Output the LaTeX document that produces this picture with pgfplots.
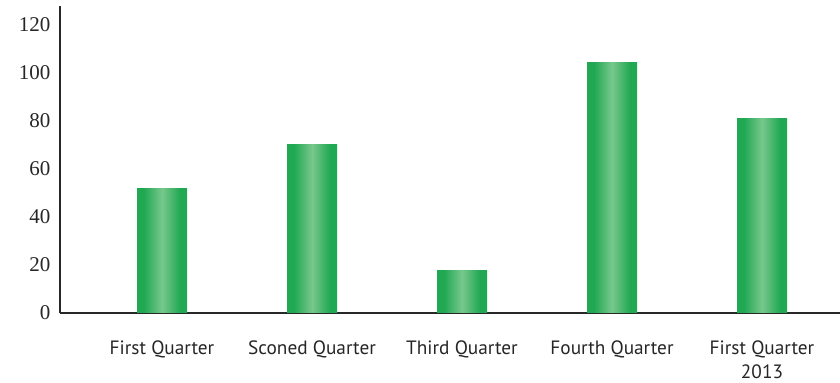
\documentclass[border=0pt]{standalone}
\usepackage{fontspec}
\setmainfont{Liberation Serif}
\newfontfamily\labelfont{PT Sans}
\usepackage{pgfplots}
\pgfplotsset{compat=1.18}

\definecolor{barEdge}{RGB}{33,168,82}
\definecolor{barMid}{RGB}{120,200,140}
\definecolor{axisGray}{RGB}{40,40,40}

% bar fill: dark green at the sides, light stripe in the middle
\pgfdeclarehorizontalshading{barshade}{100bp}{%
  color(0bp)=(barEdge); color(25bp)=(barEdge); color(32bp)=(barEdge);
  color(50bp)=(barMid);
  color(68bp)=(barEdge); color(75bp)=(barEdge); color(100bp)=(barEdge)}

\begin{document}
\begin{tikzpicture}
\useasboundingbox (0,0) rectangle (840bp,383bp);
\begin{axis}[
  at={(60bp,70bp)}, anchor=south west,
  scale only axis, width=780bp, height=307bp,
  xmin=-0.68, xmax=4.52, ymin=0, ymax=127.9,
  axis x line*=bottom, axis y line*=left,
  axis line style={line width=2.6bp, axisGray},
  major tick length=0pt,
  ytick={0,20,...,120},
  xtick={0,...,4},
  xticklabels={First Quarter, Sconed Quarter, Third Quarter, Fourth Quarter, {First Quarter\\2013}},
  x tick label style={font=\labelfont\fontsize{19.3bp}{24bp}\selectfont, align=center, anchor=north, yshift=-24bp, text=black!85},
  y tick label style={font=\fontsize{21bp}{24bp}\selectfont, xshift=-6bp, text=black!85},
  /pgf/number format/assume math mode=true,
  ybar, bar width=50bp,
  every axis plot/.append style={draw=none, shading=barshade, bar shift=0pt},
]
% one plot per quarter so that each bar gets its own shading
\addplot coordinates {(0,51.7)};
\addplot coordinates {(1,70.4)};
\addplot coordinates {(2,17.5)};
\addplot coordinates {(3,104.2)};
\addplot coordinates {(4,81.2)};
\end{axis}
\end{tikzpicture}
\end{document}
